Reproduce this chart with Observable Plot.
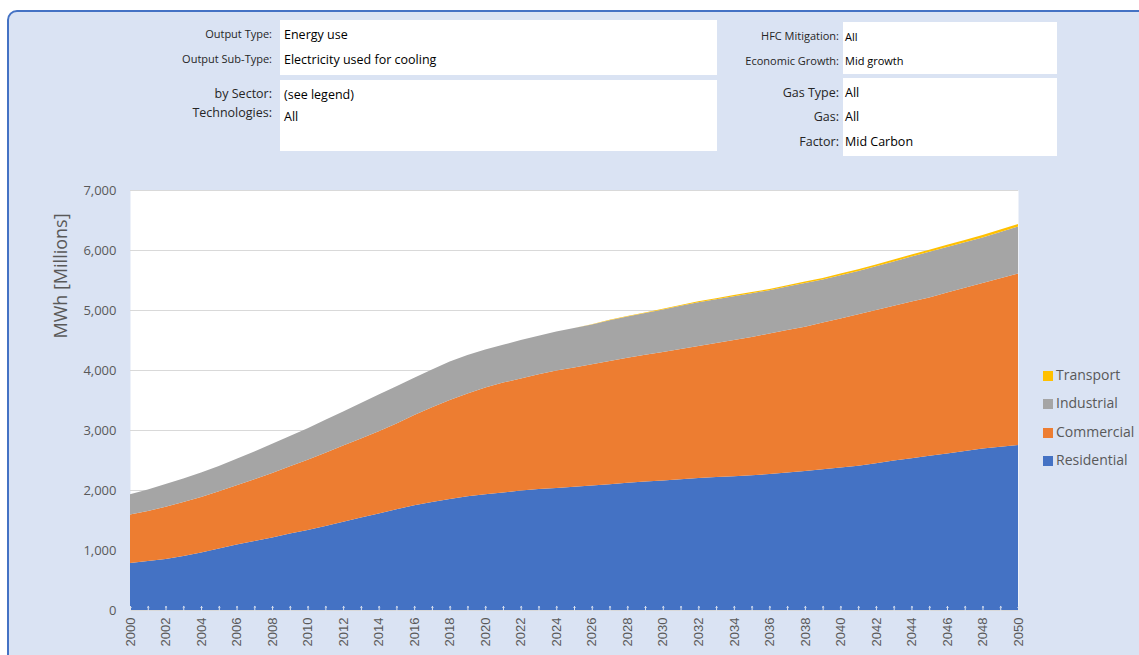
<!DOCTYPE html>
<html><head><meta charset="utf-8">
<script src="https://cdn.jsdelivr.net/npm/d3@7"></script>
<script src="https://cdn.jsdelivr.net/npm/@observablehq/plot@0.6"></script>
<style>
html,body{margin:0;padding:0;background:#fff;}
#wrap{position:relative;width:1139px;height:655px;overflow:hidden;font-family:"Open Sans",sans-serif;}
#bg{position:absolute;left:7px;top:10px;width:1160px;height:700px;background:#dae3f3;border:2px solid #4472c4;border-radius:10px;box-sizing:border-box;}
.box{position:absolute;background:#fff;}
.lbl{position:absolute;text-align:right;white-space:nowrap;color:#262626;line-height:16px;height:16px;}
.val{position:absolute;white-space:nowrap;color:#000;line-height:16px;height:16px;}
#chart{position:absolute;left:0;top:0;}
#ytitle{position:absolute;left:60px;top:276px;transform:translate(-50%,-50%) rotate(-90deg);white-space:nowrap;font-size:18px;color:#595959;}
.leg{position:absolute;left:1043px;white-space:nowrap;font-size:14px;color:#595959;line-height:16px;height:16px;}
.leg span{display:inline-block;width:10px;height:10px;margin-right:3px;vertical-align:-1px;}
</style></head>
<body>
<div id="wrap">
  <div id="bg"></div>
  <div class="box" style="left:280px;top:20px;width:437px;height:55px;"></div>
  <div class="box" style="left:280px;top:80px;width:437px;height:71px;"></div>
  <div class="box" style="left:843px;top:22px;width:214px;height:52px;"></div>
  <div class="box" style="left:843px;top:78px;width:214px;height:78px;"></div>

  <div class="lbl" style="right:867px;top:26px;font-size:11px;">Output Type:</div>
  <div class="lbl" style="right:867px;top:51px;font-size:11px;">Output Sub-Type:</div>
  <div class="lbl" style="right:867px;top:86px;font-size:12.5px;">by Sector:</div>
  <div class="lbl" style="right:867px;top:105px;font-size:12.5px;">Technologies:</div>
  <div class="val" style="left:284px;top:27px;font-size:12.5px;">Energy use</div>
  <div class="val" style="left:284px;top:52px;font-size:12.5px;">Electricity used for cooling</div>
  <div class="val" style="left:284px;top:87px;font-size:12.5px;">(see legend)</div>
  <div class="val" style="left:284px;top:109px;font-size:12.5px;">All</div>

  <div class="lbl" style="right:300px;top:28px;font-size:11px;">HFC Mitigation:</div>
  <div class="lbl" style="right:300px;top:53px;font-size:11px;">Economic Growth:</div>
  <div class="lbl" style="right:300px;top:85px;font-size:12.5px;">Gas Type:</div>
  <div class="lbl" style="right:300px;top:109px;font-size:12.5px;">Gas:</div>
  <div class="lbl" style="right:300px;top:134px;font-size:12.5px;">Factor:</div>
  <div class="val" style="left:845px;top:29px;font-size:11px;">All</div>
  <div class="val" style="left:845px;top:53px;font-size:11px;">Mid growth</div>
  <div class="val" style="left:845px;top:85px;font-size:12.5px;">All</div>
  <div class="val" style="left:845px;top:109px;font-size:12.5px;">All</div>
  <div class="val" style="left:845px;top:134px;font-size:12.5px;">Mid Carbon</div>

  <div id="chart"></div>
  <div id="ytitle">MWh [Millions]</div>
  <div id="legend"></div>
</div>
<script>
const years = [2000,2001,2002,2003,2004,2005,2006,2007,2008,2009,2010,2011,2012,2013,2014,2015,2016,2017,2018,2019,2020,2021,2022,2023,2024,2025,2026,2027,2028,2029,2030,2031,2032,2033,2034,2035,2036,2037,2038,2039,2040,2041,2042,2043,2044,2045,2046,2047,2048,2049,2050];
const residential = [785,815,850,900,960,1025,1090,1150,1210,1275,1335,1400,1470,1540,1610,1680,1745,1800,1850,1895,1930,1960,1990,2015,2035,2055,2075,2095,2120,2140,2160,2180,2200,2215,2230,2245,2265,2290,2315,2345,2375,2405,2445,2490,2530,2570,2610,2650,2690,2720,2750];
const commercial = [805,835,870,900,925,955,990,1030,1075,1120,1170,1220,1270,1320,1370,1430,1505,1580,1650,1715,1780,1830,1870,1915,1955,1985,2020,2055,2085,2115,2140,2170,2200,2235,2270,2305,2345,2375,2405,2445,2485,2525,2555,2580,2610,2640,2680,2720,2760,2810,2860];
const industrial = [340,360,380,390,405,420,440,460,485,505,525,550,570,590,610,620,620,630,640,640,630,630,640,640,650,660,665,680,685,695,710,720,730,730,730,730,720,725,730,720,720,720,730,740,750,760,760,760,760,770,780];
const transport = [0,0,0,0,0,0,0,0,0,0,0,0,0,0,0,0,0,0,0,0,0,0,0,0,0,0,4,6,8,10,12,13,15,16,18,19,21,22,24,25,27,28,30,31,33,34,36,37,39,40,42];
const sectors = ["Residential","Commercial","Industrial","Transport"];
const colors = ["#4472c4","#ed7d31","#a5a5a5","#ffc000"];
const xTickLabels = [2000,2002,2004,2006,2008,2010,2012,2014,2016,2018,2020,2022,2024,2026,2028,2030,2032,2034,2036,2038,2040,2042,2044,2046,2048,2050];
const yTicks = [0,1000,2000,3000,4000,5000,6000,7000];
const legendOrder = ["Transport","Industrial","Commercial","Residential"];

const series = [residential, commercial, industrial, transport];
const data = [];
sectors.forEach((s, i) => years.forEach((yr, j) => data.push({sector: s, year: yr, value: series[i][j]})));

const chart = Plot.plot({
  width: 1139, height: 655,
  marginLeft: 130, marginRight: 121, marginTop: 190, marginBottom: 45,
  style: {background: "transparent", overflow: "visible"},
  x: {domain: [2000, 2050]},
  y: {domain: [0, 7000]},
  color: {domain: sectors, range: colors},
  marks: [
    Plot.frame({fill: "white", stroke: null}),
    Plot.gridY(yTicks, {stroke: "#d9d9d9", strokeOpacity: 1}),
    Plot.areaY(data, {x: "year", y: "value", z: "sector", fill: "sector", order: sectors}),
    Plot.vector(years, {x: d => d, y: 0, length: 4, rotate: 0, anchor: "start", stroke: "#dce3f0", strokeWidth: 1}),
    Plot.axisY(yTicks, {tickSize: 0, tickPadding: 14, tickFormat: d3.format(","), fontSize: 13, fill: "#595959", fontFamily: "Open Sans", label: null}),
    Plot.axisX(xTickLabels, {tickSize: 0, tickPadding: 7, tickRotate: -90, tickFormat: d => String(d), fontSize: 13, fill: "#595959", fontFamily: "Liberation Sans", label: null})
  ]
});
document.getElementById("chart").appendChild(chart);

const legendY = [367, 395, 424, 452];
const leg = document.getElementById("legend");
legendOrder.forEach((s, i) => {
  const d = document.createElement("div");
  d.className = "leg";
  d.style.top = legendY[i] + "px";
  d.innerHTML = `<span style="background:${colors[sectors.indexOf(s)]}"></span>${s}`;
  leg.appendChild(d);
});
</script>
</body></html>
